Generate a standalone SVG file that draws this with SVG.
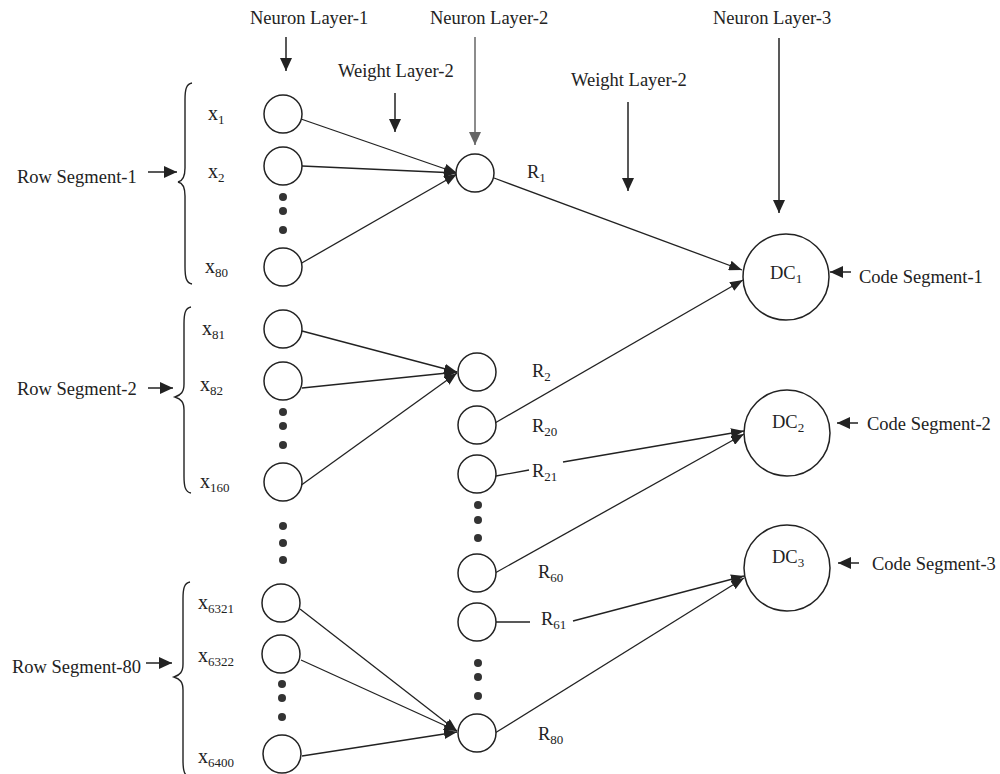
<svg xmlns="http://www.w3.org/2000/svg" width="1000" height="774" viewBox="0 0 1000 774">
<defs>
<style>
text{font-family:"Liberation Serif","Times New Roman",serif;fill:#222}
.t{font-size:18.5px}
.xl{font-size:20px}
.s{font-size:13px}
.n{fill:#fff;stroke:#222;stroke-width:1.5}
.c{fill:none;stroke:#222;stroke-width:1.3}
.ca{fill:none;stroke:#222;stroke-width:1.3;marker-end:url(#ah)}
.pa{fill:none;stroke:#222;stroke-width:1.5;marker-end:url(#ph)}
.br{fill:none;stroke:#222;stroke-width:1.4}
.d{fill:#333}
</style>
<marker id="ah" markerUnits="userSpaceOnUse" markerWidth="14" markerHeight="10" refX="13" refY="5" orient="auto"><path d="M0,0 L13,5 L0,10 z" fill="#222"/></marker>
<marker id="ph" markerUnits="userSpaceOnUse" markerWidth="14" markerHeight="12" refX="13" refY="6" orient="auto"><path d="M0,0 L13,6 L0,12 z" fill="#222"/></marker>
<marker id="phg" markerUnits="userSpaceOnUse" markerWidth="14" markerHeight="12" refX="13" refY="6" orient="auto"><path d="M0,0 L13,6 L0,12 z" fill="#666"/></marker>
</defs>
<rect width="1000" height="774" fill="#fff"/>

<g id="labels">
<text class="t" x="250" y="24">Neuron Layer-1</text>
<text class="t" x="430" y="24">Neuron Layer-2</text>
<text class="t" x="713" y="24">Neuron Layer-3</text>
<text class="t" x="338" y="77">Weight Layer-2</text>
<text class="t" x="571" y="86">Weight Layer-2</text>
<text class="t" x="17" y="183">Row Segment-1</text>
<text class="t" x="17" y="395">Row Segment-2</text>
<text class="t" x="12" y="673">Row Segment-80</text>
<text class="t" x="859" y="283">Code Segment-1</text>
<text class="t" x="867" y="430">Code Segment-2</text>
<text class="t" x="872" y="570">Code Segment-3</text>
</g>

<g id="pointers">
<line class="pa" x1="286" y1="37" x2="286" y2="71"/>
<line class="pa" x1="395" y1="93" x2="395" y2="132"/>
<line x1="475" y1="37" x2="475" y2="145" stroke="#666" stroke-width="1.5" marker-end="url(#phg)"/>
<line class="pa" x1="628" y1="102" x2="628" y2="191"/>
<line class="pa" x1="779" y1="38" x2="779" y2="213"/>
<line class="pa" x1="148" y1="172" x2="177" y2="172"/>
<line class="pa" x1="148" y1="388" x2="173" y2="388"/>
<line class="pa" x1="146" y1="663" x2="172" y2="663"/>
<line class="pa" x1="851" y1="272" x2="830" y2="272"/>
<line class="pa" x1="858" y1="423" x2="837" y2="423"/>
<line class="pa" x1="859" y1="563" x2="838" y2="563"/>
</g>

<g id="braces">
<path class="br" d="M192,83 C186,84 185,90 185,100 L185,168 C185,177 183,181 178,182 C183,183 185,187 185,196 L185,266 C185,277 186,283 192,284"/>
<path class="br" d="M191,307 C185,308 184,314 184,324 L184,384 C184,392 181,395 175,397 C181,399 184,402 184,410 L184,476 C184,486 185,492 191,493"/>
<path class="br" d="M190,582 C184,583 183,589 183,599 L183,664 C183,672 180,675 174,677 C180,679 183,682 183,690 L183,760 C183,770 184,776 190,777"/>
</g>

<g id="connectors">
<line class="ca" x1="301" y1="119" x2="457" y2="173"/>
<line class="ca" x1="302" y1="166" x2="457" y2="173"/>
<line class="ca" x1="300" y1="264" x2="457" y2="174"/>
<line class="ca" x1="302" y1="331" x2="457" y2="372"/>
<line class="ca" x1="302" y1="388" x2="457" y2="372"/>
<line class="ca" x1="300" y1="486" x2="457" y2="373"/>
<line class="ca" x1="300" y1="609" x2="457" y2="731"/>
<line class="ca" x1="301" y1="660" x2="457" y2="731"/>
<line class="ca" x1="302" y1="756" x2="457" y2="732"/>
<line class="ca" x1="494" y1="178" x2="742" y2="270"/>
<line class="ca" x1="495" y1="423" x2="743" y2="280"/>
<line class="c" x1="496" y1="476" x2="529" y2="470"/>
<line class="ca" x1="563" y1="462" x2="744" y2="431"/>
<line class="ca" x1="495" y1="573" x2="744" y2="434"/>
<line class="c" x1="496" y1="622" x2="530" y2="622"/>
<line class="ca" x1="573" y1="621" x2="744" y2="576"/>
<line class="ca" x1="495" y1="733" x2="744" y2="578"/>
</g>

<g id="layer1">
<g id="n-x1"><circle class="n" cx="283" cy="114" r="19"/><text class="xl" x="208" y="120">x<tspan class="s" dy="4">1</tspan></text></g>
<g id="n-x2"><circle class="n" cx="283" cy="166" r="19"/><text class="xl" x="208" y="178">x<tspan class="s" dy="4">2</tspan></text></g>
<g id="n-x80"><circle class="n" cx="283" cy="267" r="19"/><text class="xl" x="205" y="273">x<tspan class="s" dy="4">80</tspan></text></g>
<g id="n-x81"><circle class="n" cx="283" cy="329" r="19"/><text class="xl" x="202" y="335">x<tspan class="s" dy="4">81</tspan></text></g>
<g id="n-x82"><circle class="n" cx="283" cy="381" r="19"/><text class="xl" x="200" y="391">x<tspan class="s" dy="4">82</tspan></text></g>
<g id="n-x160"><circle class="n" cx="283" cy="482" r="19"/><text class="xl" x="200" y="488">x<tspan class="s" dy="4">160</tspan></text></g>
<g id="n-x6321"><circle class="n" cx="281" cy="603" r="19"/><text class="xl" x="198" y="609">x<tspan class="s" dy="4">6321</tspan></text></g>
<g id="n-x6322"><circle class="n" cx="281" cy="654" r="19"/><text class="xl" x="198" y="662">x<tspan class="s" dy="4">6322</tspan></text></g>
<g id="n-x6400"><circle class="n" cx="282" cy="754" r="19"/><text class="xl" x="198" y="763">x<tspan class="s" dy="4">6400</tspan></text></g>
<g id="dots1">
<circle class="d" cx="283" cy="197" r="4"/><circle class="d" cx="283" cy="211" r="4"/><circle class="d" cx="283" cy="230" r="4"/>
<circle class="d" cx="283" cy="412" r="4"/><circle class="d" cx="283" cy="426" r="4"/><circle class="d" cx="283" cy="445" r="4"/>
<circle class="d" cx="283" cy="526" r="4"/><circle class="d" cx="283" cy="543" r="4"/><circle class="d" cx="283" cy="560" r="4"/>
<circle class="d" cx="282" cy="684" r="4"/><circle class="d" cx="282" cy="698" r="4"/><circle class="d" cx="282" cy="717" r="4"/>
</g>
</g>

<g id="layer2">
<g id="n-R1"><circle class="n" cx="475" cy="173" r="19"/><text class="t" x="527" y="178">R<tspan class="s" dy="4">1</tspan></text></g>
<g id="n-R2"><circle class="n" cx="477" cy="372" r="19"/><text class="t" x="532" y="377">R<tspan class="s" dy="4">2</tspan></text></g>
<g id="n-R20"><circle class="n" cx="477" cy="425" r="19"/><text class="t" x="532" y="432">R<tspan class="s" dy="4">20</tspan></text></g>
<g id="n-R21"><circle class="n" cx="477" cy="474" r="19"/><text class="t" x="532" y="477">R<tspan class="s" dy="4">21</tspan></text></g>
<g id="n-R60"><circle class="n" cx="477" cy="573" r="19"/><text class="t" x="538" y="578">R<tspan class="s" dy="4">60</tspan></text></g>
<g id="n-R61"><circle class="n" cx="477" cy="622" r="19"/><text class="t" x="541" y="625">R<tspan class="s" dy="4">61</tspan></text></g>
<g id="n-R80"><circle class="n" cx="477" cy="733" r="19"/><text class="t" x="538" y="740">R<tspan class="s" dy="4">80</tspan></text></g>
<g id="dots2">
<circle class="d" cx="478" cy="505" r="4"/><circle class="d" cx="478" cy="520" r="4"/><circle class="d" cx="478" cy="538" r="4"/>
<circle class="d" cx="478" cy="663" r="4"/><circle class="d" cx="478" cy="677" r="4"/><circle class="d" cx="478" cy="696" r="4"/>
</g>
</g>

<g id="layer3">
<g id="n-DC1"><circle class="n" cx="786" cy="277" r="43"/><text class="t" x="770" y="279">DC<tspan class="s" dy="4">1</tspan></text></g>
<g id="n-DC2"><circle class="n" cx="787" cy="433" r="43"/><text class="t" x="772" y="428">DC<tspan class="s" dy="4">2</tspan></text></g>
<g id="n-DC3"><circle class="n" cx="787" cy="568" r="43"/><text class="t" x="772" y="563">DC<tspan class="s" dy="4">3</tspan></text></g>
</g>
</svg>
